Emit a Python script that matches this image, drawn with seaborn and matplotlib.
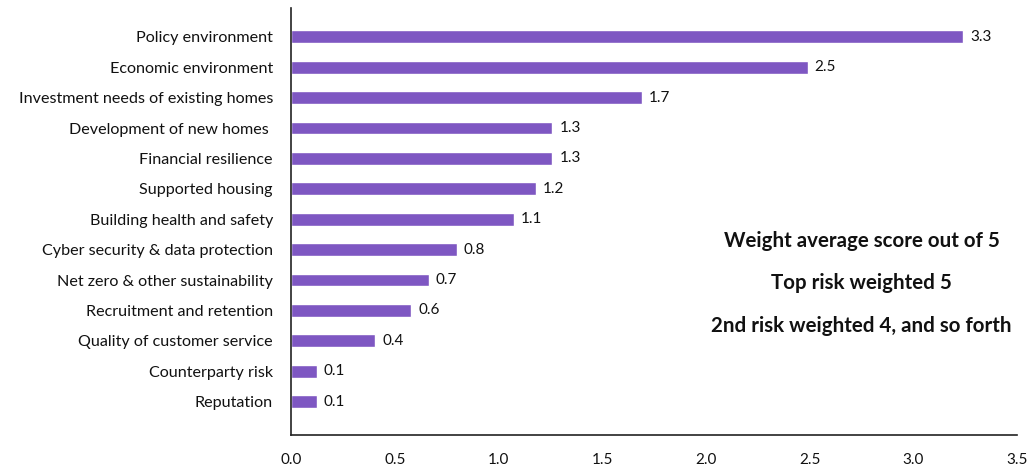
import matplotlib
matplotlib.use("Agg")
import matplotlib.pyplot as plt
import seaborn as sns
import pandas as pd

categories = [
    "Policy environment",
    "Economic environment",
    "Investment needs of existing homes",
    "Development of new homes ",
    "Financial resilience",
    "Supported housing",
    "Building health and safety",
    "Cyber security & data protection",
    "Net zero & other sustainability",
    "Recruitment and retention",
    "Quality of customer service",
    "Counterparty risk",
    "Reputation",
]
values = [3.24, 2.49, 1.69, 1.26, 1.26, 1.18, 1.075, 0.80, 0.665, 0.58, 0.405, 0.125, 0.125]
value_labels = ["3.3", "2.5", "1.7", "1.3", "1.3", "1.2", "1.1", "0.8", "0.7", "0.6", "0.4", "0.1", "0.1"]
x_ticks = [0.0, 0.5, 1.0, 1.5, 2.0, 2.5, 3.0, 3.5]
notes = ["Weight average score out of 5", "Top risk weighted 5", "2nd risk weighted 4, and so forth"]

sns.set_style("white")
plt.rcParams["font.family"] = ["Lato", "DejaVu Sans"]

df = pd.DataFrame({"category": categories, "value": values})

fig = plt.figure(figsize=(10.27, 4.71), dpi=100)
ax = fig.add_axes([0.2834, 0.0764, 0.7069, 0.9066])

sns.barplot(data=df, y="category", x="value", orient="h", color="#7E57C2",
            saturation=1, width=0.42, ax=ax)

for i, (v, lab) in enumerate(zip(values, value_labels)):
    ax.annotate(lab, xy=(v, i), xytext=(5, 0), textcoords="offset points",
                va="center", ha="left", fontsize=11, color="#111111")

ax.set_xlim(0, 3.5)
ax.set_ylim(13.1, -0.95)
ax.set_xticks(x_ticks)
ax.set_xticklabels([f"{t:.1f}" for t in x_ticks], fontsize=11, color="#111111")
ax.tick_params(axis="x", direction="in", length=6, width=1.2, color="#111111", pad=13)
ax.tick_params(axis="y", length=0, labelsize=11.6, labelcolor="#111111", pad=13)
ax.set_xlabel("")
ax.set_ylabel("")

for side in ["top", "right"]:
    ax.spines[side].set_visible(False)
for side in ["left", "bottom"]:
    ax.spines[side].set_color("#222222")
    ax.spines[side].set_linewidth(1.2)

for k, t in enumerate(notes):
    ax.text(2.75, 6.7 + k * 1.4, t, ha="center", va="center", fontsize=14.8,
            fontweight="bold", color="#111111")

fig.savefig("out.png", dpi=100)
